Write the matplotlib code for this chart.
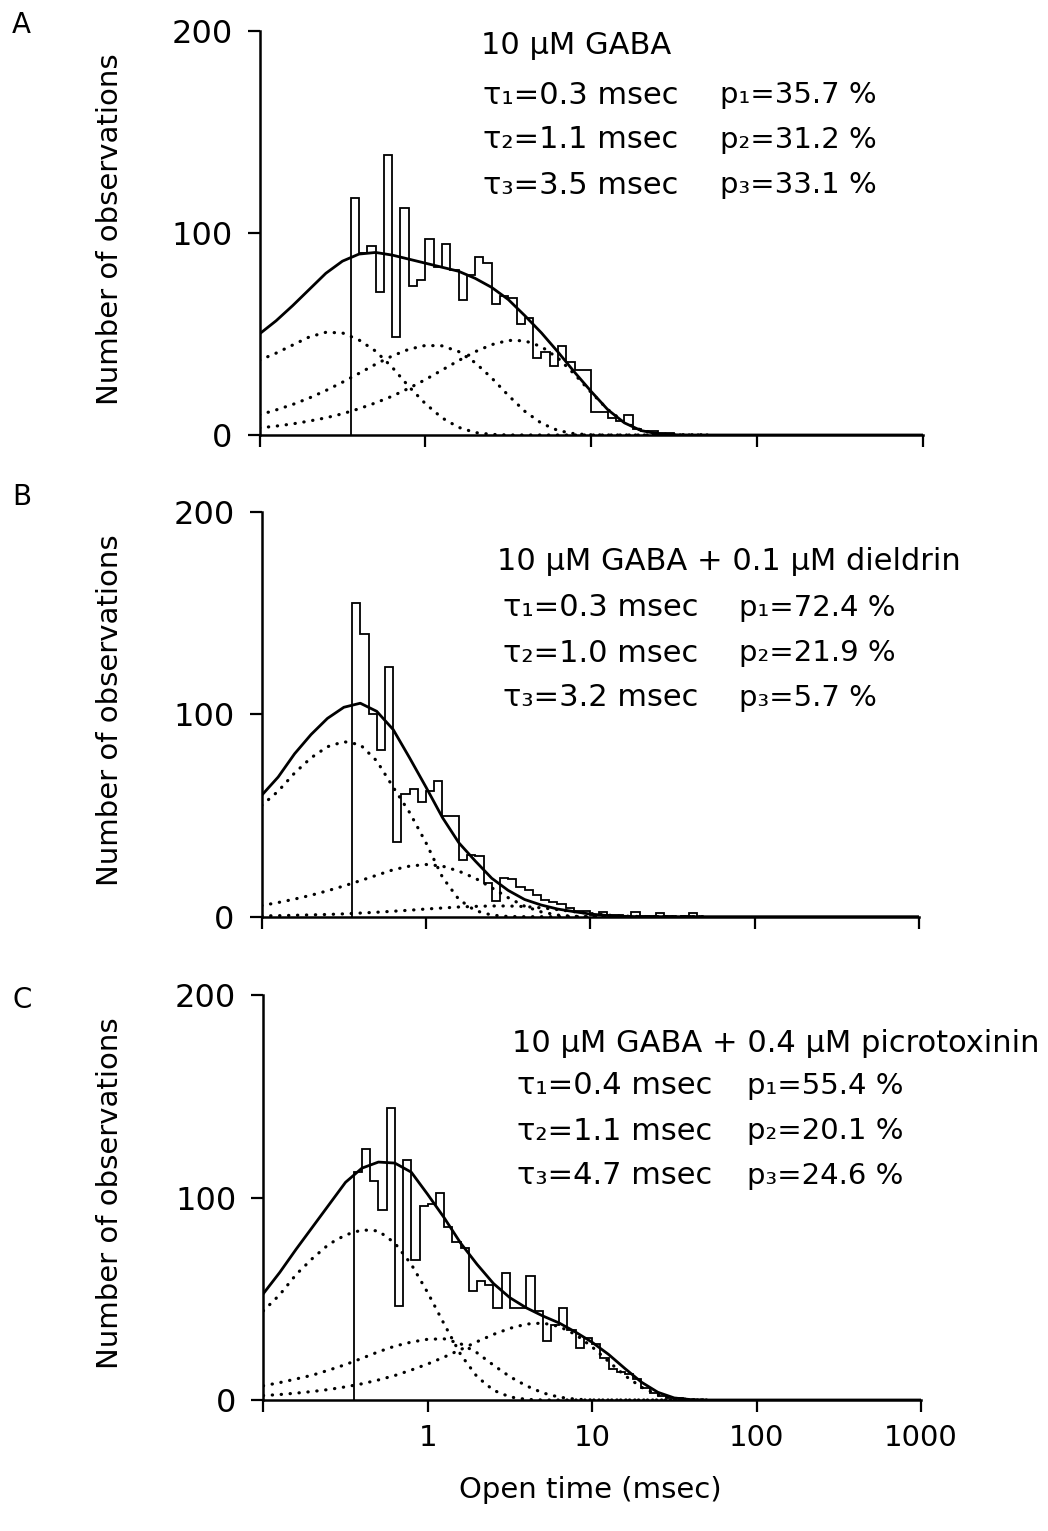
import numpy as np
import matplotlib
matplotlib.use("Agg")
import matplotlib.pyplot as plt
from matplotlib.ticker import FixedLocator, FixedFormatter, NullLocator

W, H = 1048, 1531

# open-time histograms: log bins, 20 per decade, first edge at 10**-0.45 ms
BIN_START = -0.45
BIN_STEP = 0.05

counts_A = [117, 90, 93.5, 70.5, 138.5, 48.5, 112.5, 73.5, 76.5, 97, 83, 94.5, 81.5, 67, 79,
            88, 85, 65, 69, 68, 55, 58, 38, 41, 34, 44, 36, 32, 32, 11.5, 11.5, 8.5, 7, 10,
            3, 2, 2, 1, 1, 0]
counts_B = [155, 139.5, 100, 82.5, 123.5, 37, 60.5, 63, 56.5, 62, 67, 50, 50, 28, 30.5, 30,
            16.5, 8, 19, 18.5, 14.5, 13, 10.5, 8.5, 7.5, 6.5, 4.5, 3, 3, 1, 2.5, 1, 1, 0.5,
            2.5, 0.5, 0.5, 2, 0.5, 0, 0.5, 2, 0]
counts_C = [112.5, 124, 108, 94, 144, 46.5, 118.5, 69, 96, 97, 102, 85.5, 78, 75, 54, 59, 57,
            45.5, 62.5, 45.5, 45.5, 61, 44, 29, 37, 45.5, 34.5, 25.5, 30.5, 27.5, 20.5, 15.5,
            14, 13, 10.5, 6, 3.5, 2, 1, 1, 0]

# fitted curves, log10(t / ms) from -1.0 to 1.7 in 0.1 steps
fit_logt = np.round(np.arange(-1.0, 1.75, 0.1), 1)

fit_A = [50, 56.5, 64, 72, 80, 86, 89.5, 90.3, 89, 87, 85, 83, 81, 77.5, 73, 67, 59, 50.5,
         41, 31, 21.5, 12.5, 6, 2.2, 0.6, 0.1, 0, 0]
comp1_A = [37, 40.5, 44.5, 48.5, 50.8, 50.5, 47, 41.5, 33.5, 24, 15.5, 8.5, 3.8, 1.2, 0.3, 0,
           0, 0, 0, 0, 0, 0, 0, 0, 0, 0, 0, 0]
comp2_A = [10, 12.4, 15.1, 18.3, 22, 26.1, 30.5, 35, 39.1, 42.4, 44.3, 44.1, 41.3, 35.8, 28.2,
           19.6, 11.7, 5.8, 2.2, 0.6, 0.1, 0, 0, 0, 0, 0, 0, 0]
comp3_A = [3.5, 4.4, 5.5, 6.9, 8.5, 10.5, 13, 15.9, 19.2, 23.1, 27.4, 32.1, 36.8, 41.2, 44.7,
           46.8, 46.6, 43.7, 38, 30, 21, 12.6, 6.3, 2.4, 0.7, 0.1, 0, 0]

fit_B = [60, 69, 80.5, 90, 98, 103.5, 105.5, 101.5, 92.5, 78.5, 64, 49, 36.5, 27.5, 19, 13,
         8.5, 5.8, 3.8, 2.5, 1.3, 0.6, 0.2, 0, 0, 0, 0, 0]
comp1_B = [55, 62, 71, 78.5, 84, 86.5, 85, 77, 64, 51.5, 36.5, 19.5, 8.5, 3, 0.8, 0.1,
           0, 0, 0, 0, 0, 0, 0, 0, 0, 0, 0, 0]
comp2_B = [5.5, 7, 8.7, 10.6, 12.8, 15.2, 17.8, 20.5, 23.2, 25, 25.8, 25, 22.5, 19, 14.3, 9.4,
           5.2, 2.4, 0.8, 0.2, 0, 0, 0, 0, 0, 0, 0, 0]
comp3_B = [0.4, 0.5, 0.7, 0.9, 1.1, 1.4, 1.8, 2.2, 2.7, 3.2, 3.8, 4.3, 4.8, 5.1, 5.3, 5.3,
           5.0, 4.4, 3.5, 2.5, 1.6, 0.8, 0.3, 0.1, 0, 0, 0, 0]

fit_C = [52.5, 63, 74.5, 85.5, 96.5, 107.5, 114.5, 117.5, 117, 112.5, 101.5, 90, 77.5, 67,
         57.5, 50.5, 45.5, 41.5, 38, 33.5, 28.5, 22.5, 15.5, 8.8, 3.8, 1.0, 0.2, 0]
comp1_C = [44, 52, 62, 70, 77, 81.5, 84, 83.5, 77.5, 67, 53, 37.5, 22.5, 11.5, 4.8, 1.5, 0.3,
           0, 0, 0, 0, 0, 0, 0, 0, 0, 0, 0]
comp2_C = [7, 8.6, 10.4, 12.3, 14.8, 17.5, 20.6, 23.8, 26.6, 28.6, 30, 30.2, 27.8, 23.3, 17.2,
           11.5, 7, 3.5, 1.4, 0.4, 0, 0, 0, 0, 0, 0, 0, 0]
comp3_C = [2.2, 2.7, 3.4, 4.2, 5.2, 6.5, 8, 9.9, 12.1, 14.8, 17.8, 21.2, 24.9, 28.8, 32.4,
           35.4, 37.5, 38, 36.3, 32.3, 26.2, 19, 12, 6.3, 2.6, 0.8, 0.2, 0]

titles = ["10 \u00b5M GABA",
          "10 \u00b5M GABA + 0.1 \u00b5M dieldrin",
          "10 \u00b5M GABA + 0.4 \u00b5M picrotoxinin"]
tau_text = [["\u03c4\u2081=0.3 msec", "\u03c4\u2082=1.1 msec", "\u03c4\u2083=3.5 msec"],
            ["\u03c4\u2081=0.3 msec", "\u03c4\u2082=1.0 msec", "\u03c4\u2083=3.2 msec"],
            ["\u03c4\u2081=0.4 msec", "\u03c4\u2082=1.1 msec", "\u03c4\u2083=4.7 msec"]]
p_text = [["p\u2081=35.7 %", "p\u2082=31.2 %", "p\u2083=33.1 %"],
          ["p\u2081=72.4 %", "p\u2082=21.9 %", "p\u2083=5.7 %"],
          ["p\u2081=55.4 %", "p\u2082=20.1 %", "p\u2083=24.6 %"]]
letters = ["A", "B", "C"]

xticks = [0.1, 1, 10, 100, 1000]
xticklabels = ["", "1", "10", "100", "1000"]

# layout in pixels: (left, top, right, bottom) of each axes
boxes = [(259.5, 30.7, 923, 435), (261.7, 512, 919, 916.7), (263.3, 995, 921, 1400)]
# title x, tau x, p x, title y, first row y (pixels)
text_pos = [(481, 483, 720, 45, 95), (497, 503, 739, 562, 608), (512, 517, 747, 1043, 1086)]
ROW = 45
letter_y = [25, 497, 1000]

fig = plt.figure(figsize=(W / 100, H / 100), dpi=100)

panels = [(counts_A, fit_A, comp1_A, comp2_A, comp3_A),
          (counts_B, fit_B, comp1_B, comp2_B, comp3_B),
          (counts_C, fit_C, comp1_C, comp2_C, comp3_C)]

t_fit = 10 ** fit_logt
for i, (counts, fit, c1, c2, c3) in enumerate(panels):
    l, t, r, b = boxes[i]
    ax = fig.add_axes([l / W, 1 - b / H, (r - l) / W, (b - t) / H])
    edges = 10 ** (BIN_START + BIN_STEP * np.arange(len(counts) + 1))
    ax.stairs(counts, edges, baseline=0, color="black", lw=1.3)
    ax.plot(np.append(t_fit, 1000), np.append(fit, 0), color="black", lw=2.0)
    for comp in (c1, c2, c3):
        ax.plot(t_fit, comp, color="black", lw=2.3, linestyle=(0, (0.1, 2.7)),
                dash_capstyle="round")
    ax.set_xscale("log")
    ax.set_xlim(0.1, 1000)
    ax.set_ylim(0, 200)
    ax.spines[["top", "right"]].set_visible(False)
    for s in ("left", "bottom"):
        ax.spines[s].set_linewidth(1.8)
    ax.xaxis.set_major_locator(FixedLocator(xticks))
    ax.xaxis.set_minor_locator(NullLocator())
    if i == 2:
        ax.xaxis.set_major_formatter(FixedFormatter(xticklabels))
    else:
        ax.set_xticklabels([])
    ax.set_yticks([0, 100, 200])
    ax.tick_params(direction="out", length=8.5, width=1.6)
    ax.tick_params(axis="y", pad=11, labelsize=23)
    ax.tick_params(axis="x", pad=9, labelsize=21)
    ax.set_ylabel("Number of observations", fontsize=21)
    ax.yaxis.set_label_coords((124 - l) / (r - l), 0.51)

    tx, taux, px, ty, ry = text_pos[i]
    fig.text(tx / W, 1 - ty / H, titles[i], fontsize=22, va="center", ha="left")
    for j in range(3):
        y = 1 - (ry + j * ROW) / H
        fig.text(taux / W, y, tau_text[i][j], fontsize=22, va="center", ha="left")
        fig.text(px / W, y, p_text[i][j], fontsize=21, va="center", ha="left")
    fig.text(12 / W, 1 - letter_y[i] / H, letters[i], fontsize=20, va="center", ha="left")

fig.text(590 / W, 1 - 1490 / H, "Open time (msec)", fontsize=21, ha="center", va="center")

fig.savefig("out.png", dpi=100)
